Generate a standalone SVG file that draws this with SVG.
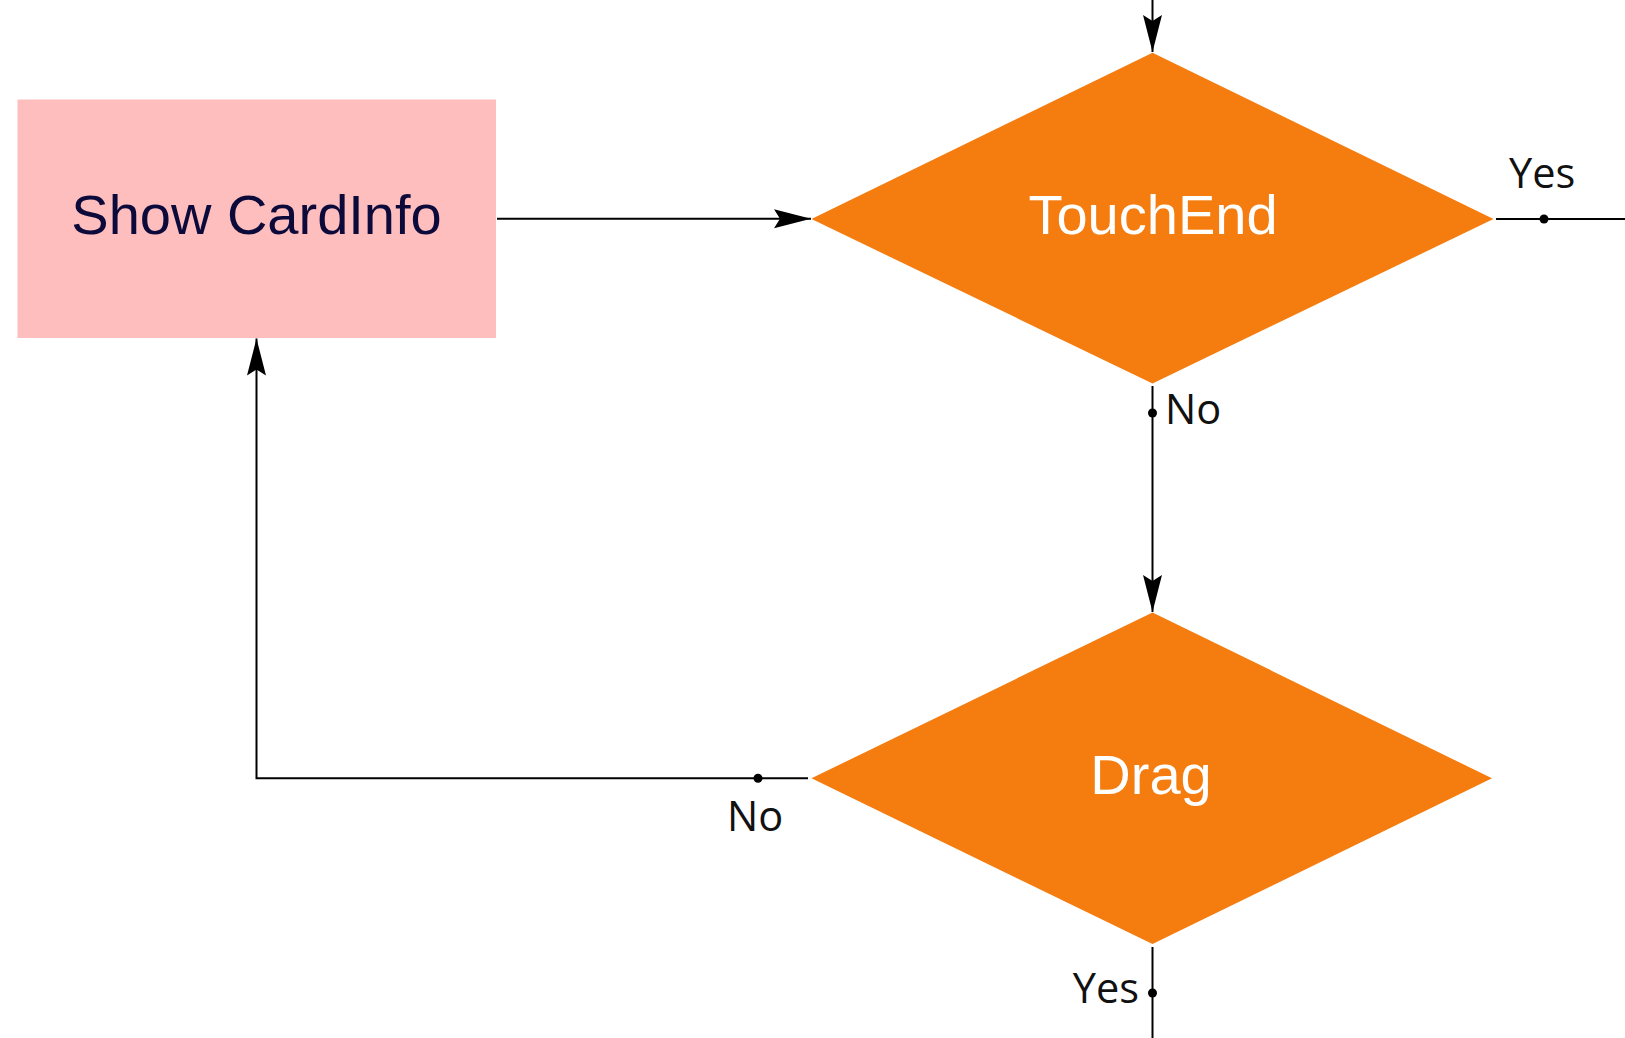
<svg xmlns="http://www.w3.org/2000/svg" width="1625" height="1038" viewBox="0 0 1625 1038">
  <style>
    .edge { fill: none; stroke: #000; stroke-width: 2; }
    .dot { fill: #000; }
    .lbl { font-family: "Open Sans", "Noto Sans", sans-serif; font-size: 41.5px; fill: #111; }
    .ntxt { font-family: "Liberation Sans", Arial, sans-serif; font-size: 56px; text-anchor: middle; }
    .dec { fill: #F57C0F; }
  </style>
  <defs>
    <marker id="arr" markerUnits="userSpaceOnUse" markerWidth="40" markerHeight="22" viewBox="-39 -11 40 22" refX="0" refY="0" orient="auto">
      <path d="M0,0 L-37,-9.5 L-31,0 L-37,9.5 Z" fill="#000"/>
    </marker>
  </defs>
  <rect width="1625" height="1038" fill="#fff"/>

  <g id="connectors">
    <path class="edge" d="M1152.5,0 L1152.5,52" marker-end="url(#arr)"/>
    <path class="edge" d="M497,218.7 L811,218.7" marker-end="url(#arr)"/>
    <path class="edge" d="M1496,219 L1625,219"/>
    <circle class="dot" cx="1544" cy="219" r="4.5"/>
    <text class="lbl" x="1509" y="188">Yes</text>
    <path class="edge" d="M1152.5,386 L1152.5,612" marker-end="url(#arr)"/>
    <circle class="dot" cx="1152.5" cy="413" r="4.5"/>
    <text class="lbl" x="1165" y="424">No</text>
    <path class="edge" d="M808,778.3 L256.5,778.3 L256.5,338.5" marker-end="url(#arr)"/>
    <circle class="dot" cx="758" cy="778.3" r="4.5"/>
    <text class="lbl" x="727" y="831">No</text>
    <path class="edge" d="M1152.5,947 L1152.5,1038"/>
    <circle class="dot" cx="1152.5" cy="993" r="4.5"/>
    <text class="lbl" x="1139" y="1003" text-anchor="end">Yes</text>
  </g>

  <g id="show-cardinfo">
    <rect x="17.5" y="99.5" width="478.5" height="238.5" fill="#FEBEBE"/>
    <text class="ntxt" x="256.5" y="234" fill="#0B0A3A" font-size="57">Show CardInfo</text>
  </g>

  <g id="touchend">
    <polygon class="dec" points="1152.5,52.7 1493.5,219 1152.5,383.5 811.5,219"/>
    <text class="ntxt" x="1153" y="234" fill="#FFFFFF">TouchEnd</text>
  </g>

  <g id="drag">
    <polygon class="dec" points="1152.5,612.5 1492,778.3 1152.5,944 811.5,778.3"/>
    <text class="ntxt" x="1151" y="793.5" fill="#FFFFFF">Drag</text>
  </g>
</svg>
